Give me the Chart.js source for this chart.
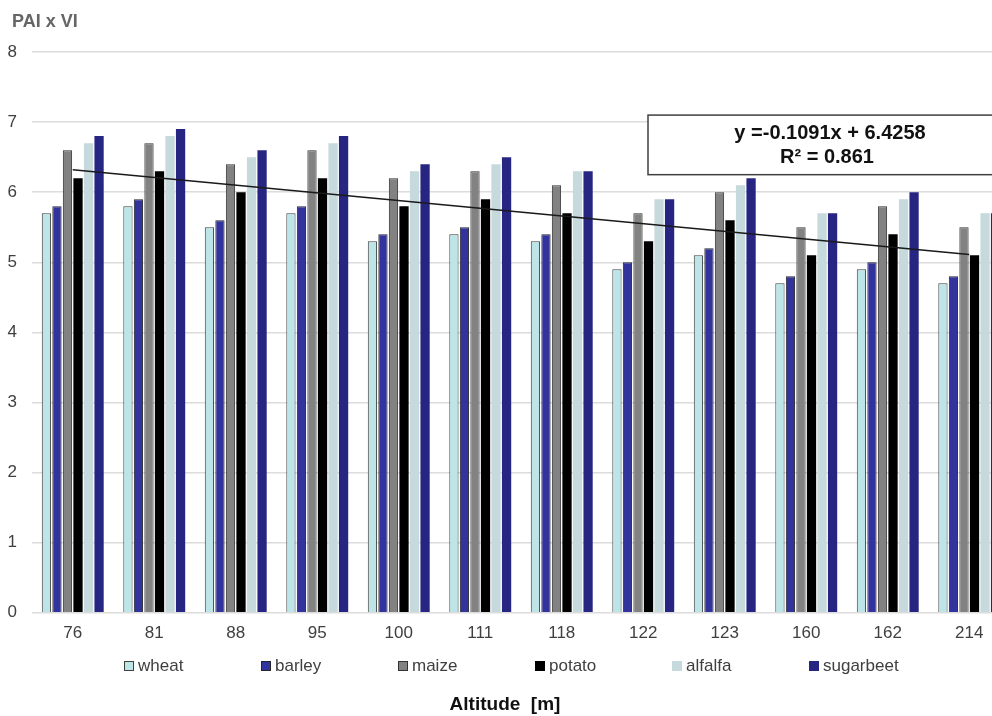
<!DOCTYPE html>
<html>
<head>
    <title>PAI x VI by altitude</title>
    <script src="https://cdn.jsdelivr.net/npm/chart.js"></script>
    <style>
        body { margin: 0; overflow: hidden; background: #fff; }
        #wrap { width: 1012px; height: 716px; }
    </style>
</head>
<body>
    <div id="wrap">
        <canvas id="paiChart"></canvas>
    </div>

    <script>
        // altitudes (m)
        const altitudes = ["76", "81", "88", "95", "100", "111", "118", "122", "123", "160", "162", "214"];

        const wheat     = [5.7, 5.8, 5.5, 5.7, 5.3, 5.4, 5.3, 4.9, 5.1, 4.7, 4.9, 4.7];
        const barley    = [5.8, 5.9, 5.6, 5.8, 5.4, 5.5, 5.4, 5.0, 5.2, 4.8, 5.0, 4.8];
        const maize     = [6.6, 6.7, 6.4, 6.6, 6.2, 6.3, 6.1, 5.7, 6.0, 5.5, 5.8, 5.5];
        const potato    = [6.2, 6.3, 6.0, 6.2, 5.8, 5.9, 5.7, 5.3, 5.6, 5.1, 5.4, 5.1];
        const alfalfa   = [6.7, 6.8, 6.5, 6.7, 6.3, 6.4, 6.3, 5.9, 6.1, 5.7, 5.9, 5.7];
        const sugarbeet = [6.8, 6.9, 6.6, 6.8, 6.4, 6.5, 6.3, 5.9, 6.2, 5.7, 6.0, 5.7];

        // linear trend line, read at first and last altitude
        const trend = [6.32, null, null, null, null, null, null, null, null, null, null, 5.11];
        const trendEquation = "y =-0.1091x + 6.4258";
        const trendR2 = "R\u00B2 = 0.861";

        const yTicks = [0, 1, 2, 3, 4, 5, 6, 7, 8];
        const yAxisName = "PAI x VI";

        const FONT = "'Liberation Sans', Arial, sans-serif";

        function barSet(label, data, fill, border, bw) {
            return {
                label: label,
                data: data,
                backgroundColor: fill,
                borderColor: border,
                borderWidth: bw,
                borderSkipped: 'bottom',
                categoryPercentage: 0.775,
                barPercentage: 0.88,
                order: 1
            };
        }

        // y axis name top-left + equation box in the upper right
        const annotations = {
            id: 'annotations',
            afterDatasetsDraw(chart) {
                const c = chart.ctx;
                const y = chart.scales.y;
                c.save();
                c.fillStyle = '#666666';
                c.font = 'bold 18px ' + FONT;
                c.textAlign = 'left';
                c.textBaseline = 'middle';
                c.fillText(yAxisName, 12, 22);

                const top = y.getPixelForValue(7.1);
                const bottom = y.getPixelForValue(6.25);
                const left = 648, right = 1012;
                c.fillStyle = '#fff';
                c.fillRect(left, top, right - left, bottom - top);
                c.strokeStyle = '#404040';
                c.lineWidth = 1.5;
                c.strokeRect(left, top, right - left, bottom - top);
                c.fillStyle = '#111';
                c.font = 'bold 20px ' + FONT;
                c.textAlign = 'center';
                c.fillText(trendEquation, 830, top + 18);
                c.fillText(trendR2, 827, top + 42);
                c.restore();
            }
        };

        // legend in evenly spaced columns, between tick labels and axis title
        const columnLegend = {
            id: 'columnLegend',
            afterDraw(chart) {
                const c = chart.ctx;
                const sets = chart.data.datasets.filter(d => d.type !== 'line');
                const cy = 666;
                c.save();
                c.font = '17px ' + FONT;
                c.textBaseline = 'middle';
                c.textAlign = 'left';
                sets.forEach((d, i) => {
                    const x = 124 + i * 137;
                    c.fillStyle = d.backgroundColor;
                    c.fillRect(x, cy - 5, 10, 10);
                    if (d.borderWidth > 0) {
                        c.strokeStyle = d.borderColor;
                        c.lineWidth = 1;
                        c.strokeRect(x + 0.5, cy - 4.5, 9, 9);
                    }
                    c.fillStyle = '#404040';
                    c.fillText(d.label, x + 14, cy);
                });
                c.restore();
            }
        };

        const ctx = document.getElementById("paiChart").getContext('2d');

        new Chart(ctx, {
            type: 'bar',
            data: {
                labels: altitudes,
                datasets: [
                    {
                        type: 'line',
                        label: 'trend',
                        data: trend,
                        borderColor: '#1a1a1a',
                        borderWidth: 1.5,
                        pointRadius: 0,
                        spanGaps: true,
                        fill: false,
                        order: 0
                    },
                    barSet('wheat', wheat, '#bde5e8', '#404040', 1),
                    barSet('barley', barley, '#33339e', '#262626', 1),
                    barSet('maize', maize, '#828282', '#333333', 1),
                    barSet('potato', potato, '#000000', '#000000', 0),
                    barSet('alfalfa', alfalfa, '#c6d9dc', '#c6d9dc', 0),
                    barSet('sugarbeet', sugarbeet, '#262682', '#262682', 0)
                ]
            },
            options: {
                responsive: true,
                maintainAspectRatio: false,
                animation: false,
                layout: {
                    padding: { left: 0, right: 2, top: 52, bottom: 0 }
                },
                plugins: {
                    legend: { display: false },
                    tooltip: { enabled: false },
                    title: {
                        display: true,
                        text: 'Altitude  [m]',
                        position: 'bottom',
                        color: '#111111',
                        font: { family: FONT, size: 19, weight: 'bold' },
                        padding: { top: 40, bottom: 0 }
                    }
                },
                scales: {
                    x: {
                        grid: { display: false, drawTicks: false },
                        border: { display: false },
                        ticks: {
                            color: '#404040',
                            padding: 10,
                            font: { family: FONT, size: 17 }
                        }
                    },
                    y: {
                        min: 0,
                        max: 8,
                        afterFit(scale) { scale.width = 32; },
                        afterBuildTicks(scale) {
                            scale.ticks = yTicks.map(v => ({ value: v }));
                        },
                        grid: { color: '#dcdcdc', lineWidth: 1.5, drawTicks: false },
                        border: { display: false },
                        ticks: {
                            color: '#404040',
                            padding: 15,
                            font: { family: FONT, size: 17 }
                        }
                    }
                }
            },
            plugins: [annotations, columnLegend]
        });
    </script>
</body>
</html>
